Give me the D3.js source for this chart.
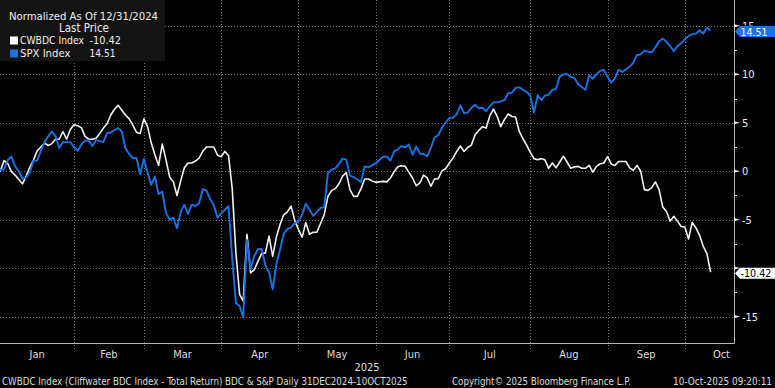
<!DOCTYPE html>
<html><head><meta charset="utf-8">
<script src="https://cdn.jsdelivr.net/npm/d3@7"></script>
<style>
html,body{margin:0;padding:0;background:#000;}
svg{display:block;}
text{font-family:"DejaVu Sans Condensed","DejaVu Sans",sans-serif;font-stretch:condensed;}
</style></head><body>
<svg id="c" width="775" height="388"></svg>
<script>
const months = ["Jan","Feb","Mar","Apr","May","Jun","Jul","Aug","Sep","Oct"];
// trading-day index where each month begins (index 0 = 31 Dec 2024)
const monthStart = [1,21,40,61,82,103,123,145,166,187];
const lastMonthEnd = 210;
const yearLabel = "2025";
const yTicks = [-15,-10,-5,0,5,10,15];
const yMinor = [-12.5,-7.5,-2.5,2.5,7.5,12.5];
const seriesNames = ["CWBDC Index","SPX Index"];

const cwbdc = [
0, 0.0, 1.1, 0.8, -0.05, -0.4, -0.85, -1.3, -0.5, 0.4,
1.15, 2.1, 2.5, 2.9, 2.65, 2.85, 3.3, 3.3, 4.1, 3.3,
4.3, 4.8, 4.7, 4.5, 3.6, 3.3, 3.3, 3.4, 3.9, 4.45,
4.9, 5.8, 6.4, 6.8, 6.3, 5.8, 5.4, 4.75, 4.0, 3.9,
5.4, 4.6, 2.9, 1.7, 0.6, 2.8, 1.2, -0.6, -1.1, -2.5,
-1.0, 0.35, 0.85, 0.85, 1.05, 1.35, 2.05, 2.5, 2.5, 2.5,
1.65, 1.5, 2.05, 1.6, -1.8, -8.4, -12.7, -13.4, -6.5, -10.5,
-10.15, -9.3, -8.5, -8.45, -6.7, -8.8, -6.8, -5.5, -4.5, -4.2,
-3.6, -5.1, -6.0, -6.8, -5.3, -6.5, -6.3, -6.3, -5.4, -4.5,
-2.6, -2.0, -1.8, -1.3, -0.5, -0.15, -1.9, -2.6, -2.6, -1.8,
-0.8, -0.8, -1.0, -1.15, -1.1, -1.05, -1.1, -0.7, -0.05, 0.45,
0.57, 0.5, -0.1, -0.7, -1.5, -1.2, -0.4, -0.7, -1.55, -0.8,
-0.77, 0.05, 0.25, 0.85, 1.35, 2.04, 2.6, 2.04, 2.45, 2.7,
3.76, 4.2, 4.6, 4.45, 5.7, 6.4, 5.65, 4.6, 5.35, 5.9,
5.65, 5.6, 4.1, 3.35, 2.7, 1.95, 1.3, 1.18, 1.3, 1.15,
0.3, 0.85, 0.35, 0.95, 1.55, 0.95, 0.3, 0.45, 0.5, 0.3,
0.3, 0.6, -0.1, 0.5, 0.77, 0.85, 1.5, 0.75, 0.6, 1.0,
1.0, 1.0, 0.35, 0.1, 0.6, 0.0, -1.9, -1.98, -1.7, -1.1,
-1.9, -3.7, -4.15, -5.15, -4.65, -5.15, -5.7, -5.76, -7.0, -5.3,
-5.85, -6.6, -7.75, -8.5, -10.42
];
const spx = [
0, 0.1, 0.2, 1.15, 1.5, 0.5, 0.0, -0.75, -0.65, -0.1,
1.08, 1.1, 2.1, 3.0, 3.6, 4.1, 3.6, 2.4, 3.0, 3.0,
3.0, 2.5, 2.1, 2.75, 3.15, 3.2, 2.6, 3.2, 3.1, 3.0,
3.95, 4.0, 4.25, 4.45, 4.1, 2.35, 1.8, 1.36, 1.36, -0.3,
1.3, -0.2, -1.4, -0.55, -2.35, -2.1, -4.3, -5.0, -4.8, -5.9,
-4.2, -3.45, -4.4, -3.45, -3.6, -3.3, -1.85, -2.0, -2.85, -3.5,
-4.8, -4.35, -4.0, -3.6, -9.0, -13.6, -13.9, -15.1, -7.1, -10.1,
-8.75, -8.05, -8.0, -9.7, -10.4, -12.2, -9.6, -8.1, -6.45, -5.95,
-5.8, -5.35, -5.15, -4.5, -3.35, -3.95, -4.6, -4.2, -3.8, -3.7,
-0.2, 0.15, 0.3, 0.75, 1.3, 1.2, -0.45, -0.6, -0.85, -1.1,
0.5, 0.4, 0.6, 0.8, 1.15, 1.5, 1.5, 1.1, 2.05, 2.25,
2.6, 2.45, 2.75, 1.7, 2.55, 1.8, 1.77, 1.55, 2.4, 3.5,
3.7, 4.5, 5.0, 5.5, 5.5, 5.9, 6.8, 6.0, 6.05, 6.55,
6.85, 6.5, 6.55, 6.2, 6.7, 7.1, 7.1, 7.2, 7.35, 8.05,
8.1, 8.6, 8.65, 8.4, 8.2, 7.8, 6.06, 7.85, 7.35, 7.8,
7.9, 8.4, 8.5, 9.75, 10.0, 10.0, 9.75, 9.6, 9.0, 8.7,
8.4, 9.9, 9.55, 10.0, 10.35, 10.45, 9.75, 9.15, 9.6, 10.45,
10.25, 10.5, 10.8, 11.2, 12.0, 12.05, 12.45, 12.35, 12.25, 12.8,
13.4, 13.7, 13.35, 12.9, 12.4, 12.9, 13.2, 13.6, 13.95, 14.15,
14.2, 14.55, 14.2, 14.8, 14.51
];

const W = 775, H = 388, plotR = 734, plotB = 343;
const BLUE = "#1a72e4", WHITE = "#f2f2f2";
const svg = d3.select("#c");
svg.append("rect").attr("width", W).attr("height", H).attr("fill", "#000");

const x = d3.scaleLinear().domain([0, cwbdc.length - 1]).range([-3.3, 710.6]);
const y = d3.scaleLinear().domain([-17.73, 17.67]).range([plotB, 0]);
const px = v => Math.round(v) + 0.5;

// fit a text to a width by adjusting its font size
function fit(t, width) {
  const w = t.node().getComputedTextLength();
  const fs = +t.attr("font-size");
  if (w > 0) t.attr("font-size", (fs * width / w).toFixed(2));
  return t;
}

// grid
const grid = svg.append("g").attr("stroke", "#6e6e6e").attr("stroke-dasharray", "1,2").attr("stroke-width", 1);
grid.selectAll("line.h").data(yTicks).join("line").attr("class", "h")
  .attr("x1", 0).attr("x2", plotR).attr("y1", d => px(y(d))).attr("y2", d => px(y(d)));
grid.selectAll("line.v").data(monthStart.slice(1)).join("line").attr("class", "v")
  .attr("x1", d => px(x(d))).attr("x2", d => px(x(d))).attr("y1", 0).attr("y2", plotB + 7);

// clip
svg.append("clipPath").attr("id", "clip").append("rect").attr("x", 0).attr("y", 0).attr("width", plotR).attr("height", plotB);

const line = d3.line().x((d, i) => x(i)).y(d => y(d));
const lines = svg.append("g").attr("clip-path", "url(#clip)");
lines.append("path").datum(cwbdc).attr("d", line).attr("fill", "none").attr("stroke", WHITE).attr("stroke-width", 1.6).attr("stroke-linejoin", "round");
lines.append("path").datum(spx).attr("d", line).attr("fill", "none").attr("stroke", BLUE).attr("stroke-width", 1.9).attr("stroke-linejoin", "round");

// axes lines
svg.append("line").attr("x1", 0).attr("x2", px(plotR)).attr("y1", px(plotB)).attr("y2", px(plotB)).attr("stroke", "#b5b5b5");
svg.append("line").attr("x1", px(plotR)).attr("x2", px(plotR)).attr("y1", 0).attr("y2", px(plotB)).attr("stroke", "#b5b5b5");

const lastW = cwbdc[cwbdc.length - 1], lastB = spx[spx.length - 1];

// y ticks
const yg = svg.append("g");
yg.selectAll("path.maj").data(yTicks).join("path").attr("class", "maj")
  .attr("d", d => { const c = y(d); return `M${plotR},${c - 1.6}L${plotR + 6},${c}L${plotR},${c + 1.6}Z`; })
  .attr("fill", "#eee");
yg.selectAll("line.min").data(yMinor).join("line").attr("class", "min")
  .attr("x1", plotR).attr("x2", plotR + 3).attr("y1", d => px(y(d))).attr("y2", d => px(y(d))).attr("stroke", "#ccc");
// labels fully hidden behind a last-value tag are not drawn
yg.selectAll("text").data(yTicks.filter(d => Math.abs(y(d) - y(lastW)) > 6 && Math.abs(y(d) - y(lastB)) > 6)).join("text")
  .attr("x", plotR + 8).attr("y", d => y(d) + 4).attr("fill", "#eee").attr("font-size", 11)
  .text(d => d);
// partially hidden top label, clipped above the tag
svg.append("clipPath").attr("id", "tclip").append("rect").attr("x", plotR).attr("y", 0).attr("width", 41).attr("height", y(lastB) - 5);
svg.append("text").attr("clip-path", "url(#tclip)").attr("x", plotR + 8).attr("y", y(15) + 4).attr("fill", "#eee").attr("font-size", 11).text(15);

// last value tags
function tag(v, fill, tcolor) {
  const c = y(v) + 1;
  svg.append("path").attr("d", `M${plotR + 1},${c}L${plotR + 6},${c - 5.5}L${W},${c - 5.5}L${W},${c + 5.5}L${plotR + 6},${c + 5.5}Z`).attr("fill", fill);
  fit(svg.append("text").attr("x", plotR + 6.5).attr("y", c + 4).attr("fill", tcolor).attr("font-size", 11).text(v.toFixed(2)), v < 0 ? 31 : 27);
}
tag(lastB, BLUE, "#fff");
tag(lastW, "#fff", "#000");

// month labels
const mg = svg.append("g").attr("fill", "#ddd").attr("font-size", 11).attr("text-anchor", "middle");
months.forEach((m, k) => {
  const a = Math.max(0, x(monthStart[k]));
  const b = x(k + 1 < monthStart.length ? monthStart[k + 1] : lastMonthEnd);
  let cx = (a + b) / 2;
  const t = mg.append("text").attr("y", 358).text(m);
  const w = t.node().getComputedTextLength();
  cx = Math.min(cx, plotR - 4 - w / 2);
  t.attr("x", cx);
});
svg.append("text").attr("x", plotR / 2).attr("y", 370.5).attr("fill", "#ddd").attr("font-size", 11).attr("text-anchor", "middle").text(yearLabel);

// footer
const fg = svg.append("g").attr("fill", "#ddd");
fit(fg.append("text").attr("x", 2).attr("y", 385).attr("font-size", 11).text("CWBDC Index (Cliffwater BDC Index - Total Return) BDC & S&P Daily 31DEC2024-10OCT2025"), 406);
fit(fg.append("text").attr("x", 452).attr("y", 385).attr("font-size", 11).text("Copyright\u00A9 2025 Bloomberg Finance L.P."), 179);
fit(fg.append("text").attr("x", 772).attr("y", 385).attr("font-size", 11).attr("text-anchor", "end").text("10-Oct-2025 09:20:11"), 99);

// legend
const lg = svg.append("g");
lg.append("rect").attr("x", 0).attr("y", 0).attr("width", 165).attr("height", 61).attr("fill", "#131313");
fit(lg.append("text").attr("x", 9).attr("y", 19.5).attr("fill", "#eee").attr("font-size", 11).text("Normalized As Of 12/31/2024"), 149);
fit(lg.append("text").attr("x", 59).attr("y", 31.5).attr("fill", "#eee").attr("font-size", 11).text("Last Price"), 50);
const legRows = [
  {name: seriesNames[0], v: lastW, c: "#fff", nw: 64, vw: 31.5},
  {name: seriesNames[1], v: lastB, c: BLUE, nw: 50.5, vw: 26}
];
legRows.forEach((r, k) => {
  const by = 44 + k * 13;
  lg.append("rect").attr("x", 10).attr("y", by - 7.5).attr("width", 8).attr("height", 8).attr("fill", r.c);
  fit(lg.append("text").attr("x", 20).attr("y", by).attr("fill", "#eee").attr("font-size", 11).text(r.name), r.nw);
  fit(lg.append("text").attr("x", 89.5).attr("y", by).attr("fill", "#eee").attr("font-size", 11).text(r.v.toFixed(2)), r.vw);
});
</script>
</body></html>
